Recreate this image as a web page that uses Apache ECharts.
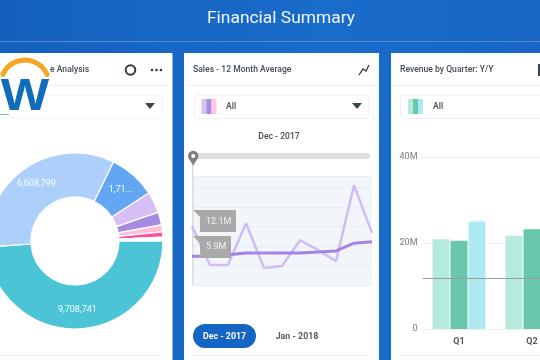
<!DOCTYPE html>
<html>
<head>
<meta charset="utf-8">
<title>Financial Summary</title>
<script src="https://cdn.jsdelivr.net/npm/echarts@6/dist/echarts.min.js"></script>
<style>
  html, body { margin: 0; padding: 0; background: #1565c4; }
  #chart { width: 540px; height: 360px; }
</style>
</head>
<body>
<div id="chart"></div>
<script>
// donut
var sliceNames = ['Teal', 'Light blue', 'Blue', 'Lilac', 'Purple', 'Pink', 'Hot pink', 'Rest'];
var sliceValues = [9708741, 6608799, 1710000, 772000, 464000, 254000, 193000, 138000];
var sliceLabels = ['9,708,741', '6,608,799', '1,71...', '', '', '', '', ''];
var sliceColors = ['#4bc5d6', '#add0fb', '#63a6f1', '#d8c0f7', '#a78ae2', '#ffbddb', '#fb4f97', '#ffffff'];

// 12 month average lines
var months = ['Dec', 'Jan', 'Feb', 'Mar', 'Apr', 'May', 'Jun', 'Jul', 'Aug', 'Sep', 'Oct'];
var salesValues = [12.1, 4.1, 4.1, 12.7, 3.5, 3.9, 9.2, 7.2, 4.9, 20.5, 10.7];
var averageValues = [5.9, 5.9, 6.2, 6.6, 6.6, 6.6, 6.6, 6.8, 7.0, 8.6, 8.9];

// revenue bars
var quarters = ['Q1', 'Q2'];
var revenueA = [20.9, 21.7];
var revenueB = [20.5, 23.2];
var revenueC = [25.0, null];
var revenueLine = 11.9;

var FONT = 'Roboto, sans-serif';

function box(x, y, w, h, fill, stroke, r, z) {
  return {
    type: 'rect', silent: true, z: z || 0,
    shape: { x: x, y: y, width: w, height: h, r: r || 0 },
    style: { fill: fill, stroke: stroke || null, lineWidth: stroke ? 1 : 0 }
  };
}
function label(text, x, y, size, color, weight, align, z) {
  return {
    type: 'text', silent: true, z: z || 5, x: x, y: y,
    style: {
      text: text, fill: color, fontFamily: FONT, fontSize: size,
      fontWeight: weight || 500, align: align || 'left', verticalAlign: 'middle'
    }
  };
}
function triangle(x, y) {
  return {
    type: 'polygon', silent: true, z: 5,
    shape: { points: [[x - 5, y - 3], [x + 5, y - 3], [x, y + 3]] },
    style: { fill: '#3a4650' }
  };
}
function swatch(x, y, colors) {
  return colors.map(function (c, i) {
    return box(x + i * 5, y, 5, 15, c, null, 0, 5);
  });
}

var graphics = [
  {
    type: 'rect', silent: true, z: -3,
    shape: { x: 0, y: 0, width: 540, height: 360 },
    style: {
      fill: new echarts.graphic.LinearGradient(0, 0, 1, 0, [
        { offset: 0, color: '#1361bd' },
        { offset: 0.6, color: '#1a6cca' },
        { offset: 1, color: '#1766c6' }
      ])
    }
  },
  box(0, 41, 540, 1, '#4a8ad6', null, 0, -2),
  label('Financial Summary', 281, 19, 17.4, '#f2f7fd', 400, 'center'),

  // cards
  box(-4, 53, 176.5, 312, '#ffffff', null, 0, -2),
  box(184, 53, 195, 312, '#ffffff', null, 0, -2),
  box(391, 53, 153, 312, '#ffffff', null, 0, -2),

  // card headers
  box(0, 85, 167, 1, '#efefef'),
  box(186, 85, 190, 1, '#efefef'),
  box(392, 85, 148, 1, '#efefef'),
  label('e Analysis', 50, 70, 8.6, '#444c55'),
  label('Sales - 12 Month Average', 193, 70, 8.6, '#444c55'),
  label('Revenue by Quarter: Y/Y', 400, 70, 8.6, '#444c55'),

  // header icons
  {
    type: 'circle', silent: true, z: 5,
    shape: { cx: 130.5, cy: 70, r: 4.8 },
    style: { fill: 'none', stroke: '#2f3a44', lineWidth: 2 }
  },
  { type: 'circle', silent: true, z: 5, shape: { cx: 152, cy: 70, r: 1.3 }, style: { fill: '#2f3a44' } },
  { type: 'circle', silent: true, z: 5, shape: { cx: 156.5, cy: 70, r: 1.3 }, style: { fill: '#2f3a44' } },
  { type: 'circle', silent: true, z: 5, shape: { cx: 161, cy: 70, r: 1.3 }, style: { fill: '#2f3a44' } },
  {
    type: 'polyline', silent: true, z: 5,
    shape: { points: [[359, 75], [363, 69], [366, 71], [369, 65]] },
    style: { fill: 'none', stroke: '#2f3a44', lineWidth: 1.3 }
  },
  box(538, 64, 2, 12, '#3a4650', null, 0, 5),

  // filter boxes
  box(-4, 95, 166, 23, '#ffffff', '#f1f2f4', 2),
  box(194.5, 95.5, 174, 23, '#ffffff', '#f1f2f4', 2),
  box(400.5, 95.5, 150, 23, '#ffffff', '#f1f2f4', 2),
  triangle(150, 106),
  triangle(357, 106),
  label('All', 226, 107, 8.6, '#444c55'),
  label('All', 433, 107, 8.6, '#444c55'),

  // slider above the line chart
  label('Dec - 2017', 279, 137, 8.6, '#444c55', 500, 'center'),
  box(193, 153, 177, 6, '#dedfe1', null, 3),
  box(192, 160, 1.5, 125, '#dcdddf', null, 0, 1),
  { type: 'circle', silent: true, z: 6, shape: { cx: 193.2, cy: 156, r: 5.2 }, style: { fill: '#7d7f82' } },
  {
    type: 'polygon', silent: true, z: 6,
    shape: { points: [[188.5, 158], [197.9, 158], [193.2, 165.5]] },
    style: { fill: '#7d7f82' }
  },
  { type: 'circle', silent: true, z: 7, shape: { cx: 193.2, cy: 156, r: 2 }, style: { fill: '#ffffff' } },

  // notches of the value tags
  {
    type: 'polygon', silent: true, z: 20,
    shape: { points: [[193, 210], [200, 210], [200, 217]] },
    style: { fill: '#a9a9a9' }
  },
  {
    type: 'polygon', silent: true, z: 20,
    shape: { points: [[193, 236], [200, 236], [200, 243]] },
    style: { fill: '#a9a9a9' }
  },

  // month pills
  box(193, 324, 63, 24, '#1565c4', null, 12),
  label('Dec - 2017', 224.5, 336.5, 8.8, '#ffffff', 700, 'center'),
  label('Jan - 2018', 297, 336.5, 8.8, '#55595e', 700, 'center'),

  // card footers
  box(0, 355, 162, 1, '#efefef'),
  box(193, 355, 177, 1, '#efefef'),
  box(400, 355, 140, 1, '#efefef'),

  // logo
  box(0, 57, 48, 27, '#ffffff', null, 0, 30),
  box(0, 114, 9, 1, '#7fb2e6', null, 0, 30),
  {
    type: 'arc', silent: true, z: 31,
    shape: { cx: 25, cy: 84, r: 24, startAngle: Math.PI * 1.13, endAngle: Math.PI * 1.87 },
    style: { fill: 'none', stroke: '#f5a623', lineWidth: 5, lineCap: 'round' }
  },
  {
    type: 'text', silent: true, z: 31, x: 25, y: 97.5, scaleX: 1.14,
    style: {
      text: 'W', fill: '#0f6cb8', fontFamily: 'Liberation Sans, sans-serif', fontSize: 45,
      fontWeight: 700, align: 'center', verticalAlign: 'middle'
    }
  },

  // the two value tags sit on the first point of each line
  box(200, 210, 36, 22, '#a9a9a9', null, 0, 20),
  box(200, 236, 31, 22, '#a9a9a9', null, 0, 20),
  label(salesValues[0].toFixed(1) + 'M', 206, 221.5, 9, '#f2f2f2', 400, 'left', 21),
  label(averageValues[0].toFixed(1) + 'M', 206, 247, 9, '#f2f2f2', 400, 'left', 21)
].concat(
  swatch(201.5, 99, ['#d8c0f7', '#a78ae2', '#ffc6e0']),
  swatch(408, 99, ['#b5eadd', '#68c7ac', '#ade9f1'])
);

var option = {
  animation: false,
  textStyle: { fontFamily: FONT },
  graphic: { elements: graphics },
  grid: [
    { left: 192, top: 176, width: 180, height: 109, backgroundColor: '#f2f6fb', show: true, borderWidth: 0, outerBoundsMode: 'none' },
    { left: 422.5, top: 157, width: 146, height: 172, outerBoundsMode: 'none' }
  ],
  xAxis: [
    {
      gridIndex: 0, type: 'category', data: months, boundaryGap: false,
      axisLine: { show: false }, axisTick: { show: false }, axisLabel: { show: false }
    },
    {
      gridIndex: 1, type: 'category', data: quarters,
      axisLine: { lineStyle: { color: '#efefef' } },
      axisTick: { show: false },
      axisLabel: { color: '#555a60', fontSize: 9, fontWeight: 700, margin: 8 }
    }
  ],
  yAxis: [
    {
      gridIndex: 0, type: 'value', min: 0, max: 22.4, interval: 4,
      axisLabel: { show: false }, axisLine: { show: false }, axisTick: { show: false },
      splitLine: { lineStyle: { color: '#e9eef5' } }
    },
    {
      gridIndex: 1, type: 'value', min: 0, max: 40, interval: 20,
      axisLine: { show: false }, axisTick: { show: false },
      axisLabel: {
        color: '#777b80', fontSize: 9, margin: 5,
        formatter: function (v) { return v === 0 ? '0' : v + 'M'; }
      },
      splitLine: { lineStyle: { color: '#f1f1f1' } }
    }
  ],
  series: [
    {
      type: 'pie', center: [75, 241], radius: [44, 88], startAngle: 0,
      itemStyle: { borderColor: '#ffffff', borderWidth: 1.2 },
      label: {
        show: true, position: 'inside', color: '#f4fbff', fontSize: 9, fontFamily: FONT,
        formatter: function (p) { return sliceLabels[p.dataIndex]; }
      },
      labelLine: { show: false },
      silent: true,
      data: sliceNames.map(function (n, i) {
        return { name: n, value: sliceValues[i], itemStyle: { color: sliceColors[i] } };
      })
    },
    {
      type: 'line', xAxisIndex: 0, yAxisIndex: 0, data: salesValues, symbol: 'none', z: 3,
      lineStyle: { color: '#d0bcf6', width: 2.5 }
    },
    {
      type: 'line', xAxisIndex: 0, yAxisIndex: 0, data: averageValues, symbol: 'none', z: 4,
      lineStyle: { color: '#a384e0', width: 3 }
    },
    {
      type: 'bar', xAxisIndex: 1, yAxisIndex: 1, data: revenueA, barWidth: 17, barGap: '6%',
      itemStyle: { color: '#b5eadd' },
      markLine: {
        silent: true, symbol: 'none', label: { show: false }, z: 9,
        lineStyle: { color: '#9a9c9c', type: 'solid', width: 1 },
        data: [{ yAxis: revenueLine }]
      }
    },
    { type: 'bar', xAxisIndex: 1, yAxisIndex: 1, data: revenueB, barWidth: 17, itemStyle: { color: '#68c7ac' } },
    { type: 'bar', xAxisIndex: 1, yAxisIndex: 1, data: revenueC, barWidth: 17, itemStyle: { color: '#ade9f1' } }
  ]
};

var chart = echarts.init(document.getElementById('chart'), null, { renderer: 'canvas', width: 540, height: 360 });
chart.setOption(option);
</script>
</body>
</html>
